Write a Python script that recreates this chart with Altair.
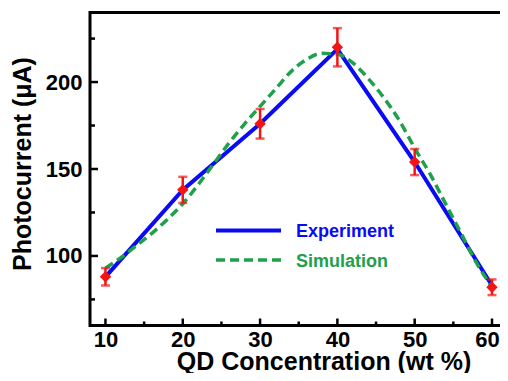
import altair as alt
import pandas as pd

# ---- data ----
conc = [10, 20, 30, 40, 50, 60]
experiment = [88, 138, 176, 219, 154, 83]
measured = [88, 138, 176, 220, 154, 82]
error = [5, 7.5, 8.5, 11, 7.5, 4.5]

sim_x = [10, 12, 14, 16, 18, 20, 22, 24, 26, 28, 30, 32, 34, 36, 38, 40,
         42, 44, 46, 48, 50, 52, 54, 56, 58, 60]
sim_y = [93, 99, 106, 113, 121, 130, 141, 153, 165, 176, 186, 196, 206, 213,
         216.5, 216, 211, 202, 191, 178, 162, 147, 130, 113, 96, 82]

x_major = [10, 20, 30, 40, 50, 60]
x_minor = [15, 25, 35, 45, 55]
y_major = [100, 150, 200]
y_minor = [75, 125, 175, 225]

legend_names = ["Experiment", "Simulation"]

# ---- styles ----
BLUE = "#0a0af5"
GREEN = "#1fa04a"
RED = "#f51414"
FONT = "Liberation Sans"
W, H = 419, 313

xs = alt.Scale(domain=[8, 62.2], nice=False, zero=False)
ys = alt.Scale(domain=[60, 240], nice=False, zero=False)

exp_df = pd.DataFrame({"c": conc, "v": experiment})
meas_df = pd.DataFrame({"c": conc, "v": measured, "e": error})
meas_df["lo"] = meas_df["v"] - meas_df["e"]
meas_df["hi"] = meas_df["v"] + meas_df["e"]
sim_df = pd.DataFrame({"c": sim_x, "v": sim_y})

x_axis = alt.Axis(values=x_major, ticks=False, domain=False, grid=False,
                  labelFont=FONT, labelFontSize=22, labelFontWeight="bold",
                  labelColor="black", labelPadding=4,
                  labelOffset={"condition": {"test": "datum.value == 60", "value": -5},
                               "value": 0},
                  title="QD Concentration (wt %)", titleFont=FONT,
                  titleFontSize=25, titleFontWeight="bold", titleColor="black",
                  titleX=233.5, titleY=43.5, titleAlign="center",
                  titleBaseline="alphabetic")
y_axis = alt.Axis(values=y_major, ticks=False, domain=False, grid=False,
                  labelFont=FONT, labelFontSize=22, labelFontWeight="bold",
                  labelColor="black", labelPadding=8,
                  title="Photocurrent (μA)", titleFont=FONT,
                  titleFontSize=25, titleFontWeight="bold", titleColor="black",
                  titleX=-60, titleY=151, titleAlign="center",
                  titleBaseline="alphabetic", titleAngle=-90)


def X(field):
    return alt.X(field, scale=xs, axis=x_axis)


def Y(field):
    return alt.Y(field, scale=ys, axis=y_axis)


exp_line = alt.Chart(exp_df).mark_line(color=BLUE, strokeWidth=4).encode(
    x=X("c:Q"), y=Y("v:Q"))

sim_line = alt.Chart(sim_df).mark_line(
    color=GREEN, strokeWidth=3.5, strokeDash=[9, 5], interpolate="monotone"
).encode(x=X("c:Q"), y=Y("v:Q"))

err_rule = alt.Chart(meas_df).mark_rule(color=RED, strokeWidth=2.5).encode(
    x=X("c:Q"), y=Y("lo:Q"), y2="hi:Q")
cap_lo = alt.Chart(meas_df).mark_tick(color=RED, orient="horizontal", size=9,
                                      thickness=2.5).encode(
    x=X("c:Q"), y=Y("lo:Q"))
cap_hi = alt.Chart(meas_df).mark_tick(color=RED, orient="horizontal", size=9,
                                      thickness=2.5).encode(
    x=X("c:Q"), y=Y("hi:Q"))
points = alt.Chart(meas_df).mark_point(
    shape="diamond", filled=True, color=RED, size=130, opacity=1
).encode(x=X("c:Q"), y=Y("v:Q"))


# inward ticks
def yticks(vals, length):
    return alt.Chart(pd.DataFrame({"v": vals})).mark_rule(
        color="black", strokeWidth=2.5).encode(
        y=Y("v:Q"), x=alt.value(0), x2=alt.value(length))


def xticks(vals, length):
    return alt.Chart(pd.DataFrame({"c": vals})).mark_rule(
        color="black", strokeWidth=2.5).encode(
        x=X("c:Q"), y=alt.value(H), y2=alt.value(H - length))


# legend
leg_exp_line = alt.Chart(pd.DataFrame({"name": [legend_names[0]]})).mark_rule(
    color=BLUE, strokeWidth=4).encode(
    x=alt.value(126), x2=alt.value(191), y=alt.value(218))
leg_sim_line = alt.Chart(pd.DataFrame({"name": [legend_names[1]]})).mark_rule(
    color=GREEN, strokeWidth=3.5, strokeDash=[9, 5]).encode(
    x=alt.value(126), x2=alt.value(191), y=alt.value(247.5))
leg_exp_text = alt.Chart(pd.DataFrame({"name": [legend_names[0]]})).mark_text(
    color=BLUE, font=FONT, fontSize=18, fontWeight="bold", align="left",
    baseline="alphabetic").encode(
    x=alt.value(206), y=alt.value(224.8), text="name:N")
leg_sim_text = alt.Chart(pd.DataFrame({"name": [legend_names[1]]})).mark_text(
    color=GREEN, font=FONT, fontSize=18, fontWeight="bold", align="left",
    baseline="alphabetic").encode(
    x=alt.value(206), y=alt.value(254), text="name:N")

chart = alt.layer(
    exp_line, sim_line, err_rule, cap_lo, cap_hi, points,
    yticks(y_major, 8), yticks(y_minor, 5), xticks(x_major, 7), xticks(x_minor, 4),
    leg_exp_line, leg_sim_line, leg_exp_text, leg_sim_text,
).properties(
    width=W, height=H,
    autosize=alt.AutoSizeParams(type="none"),
    padding={"left": 82, "top": 4.5, "right": -9, "bottom": 47.5},
    background="white",
).configure_view(stroke="black", strokeWidth=3)

chart.save("out.html", embed_options={"renderer": "svg", "actions": False})
